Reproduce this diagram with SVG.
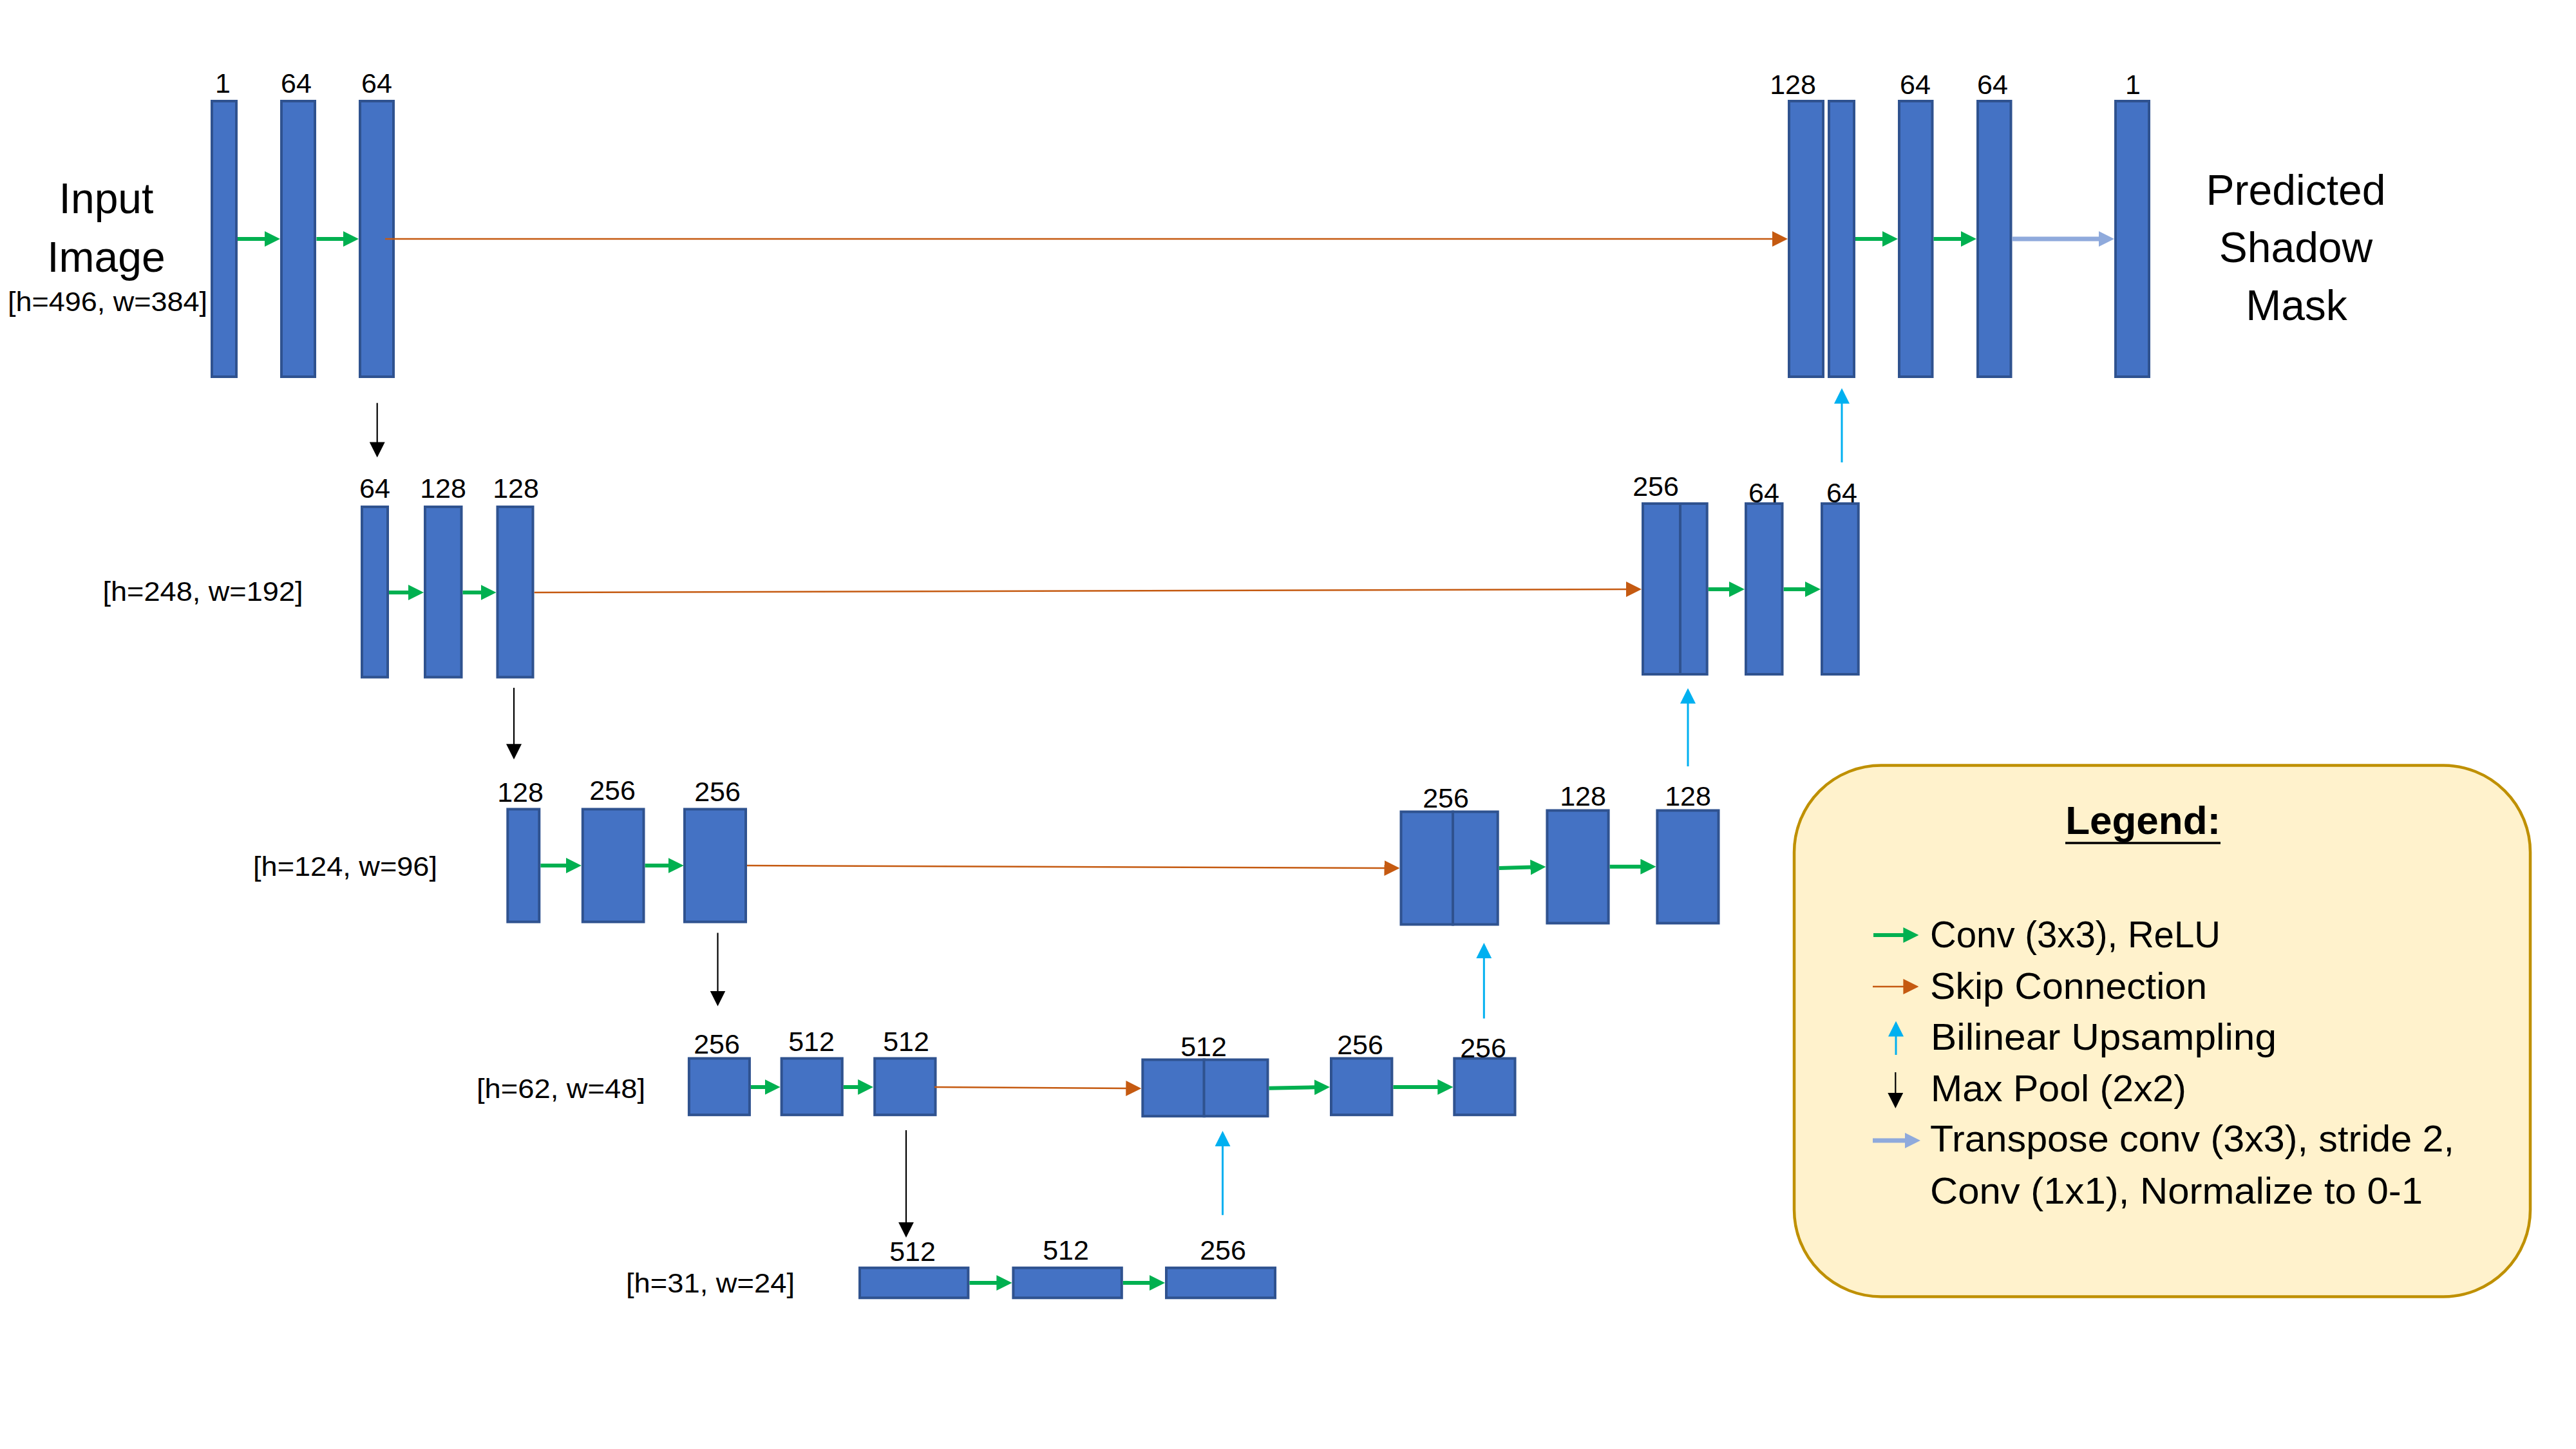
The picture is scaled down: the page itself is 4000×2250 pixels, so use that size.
<svg xmlns="http://www.w3.org/2000/svg" width="4000" height="2250" viewBox="0 0 4000 2250">
<style>
.b{fill:#4472C4;stroke:#2F528F;stroke-width:4}
.t{font-family:"Liberation Sans",Arial,sans-serif;fill:#000}
.n{font-size:43px;text-anchor:middle}
.d{font-size:43px;text-anchor:middle}
.h{font-size:66px;text-anchor:middle}
.lg{font-size:58px}
.g{stroke:#00B050;stroke-width:6;fill:none}
.o{stroke:#C55A11;stroke-width:2.5;fill:none}
.k{stroke:#000;stroke-width:2.2;fill:none}
.c{stroke:#00B0F0;stroke-width:3;fill:none}
.p{stroke:#8FAADC;stroke-width:7;fill:none}
</style>
<defs>
<marker id="mg" markerUnits="userSpaceOnUse" markerWidth="24" markerHeight="24" viewBox="0 0 24 24" refX="2" refY="12" orient="auto"><path d="M0,0 L24,12 L0,24 z" fill="#00B050"/></marker>
<marker id="mo" markerUnits="userSpaceOnUse" markerWidth="24" markerHeight="24" viewBox="0 0 24 24" refX="2" refY="12" orient="auto"><path d="M0,0 L24,12 L0,24 z" fill="#C55A11"/></marker>
<marker id="mk" markerUnits="userSpaceOnUse" markerWidth="24" markerHeight="24" viewBox="0 0 24 24" refX="2" refY="12" orient="auto"><path d="M0,0 L24,12 L0,24 z" fill="#000"/></marker>
<marker id="mc" markerUnits="userSpaceOnUse" markerWidth="24" markerHeight="24" viewBox="0 0 24 24" refX="2" refY="12" orient="auto"><path d="M0,0 L24,12 L0,24 z" fill="#00B0F0"/></marker>
<marker id="mp" markerUnits="userSpaceOnUse" markerWidth="24" markerHeight="24" viewBox="0 0 24 24" refX="2" refY="12" orient="auto"><path d="M0,0 L24,12 L0,24 z" fill="#8FAADC"/></marker>
</defs>
<rect width="4000" height="2250" fill="#fff"/>

<g id="titles">
<text class="t h" x="165" y="331">Input</text>
<text class="t h" x="165" y="422">Image</text>
<text class="t d" x="167" y="483" textLength="310" lengthAdjust="spacingAndGlyphs">[h=496, w=384]</text>
<text class="t d" x="315" y="933" textLength="311" lengthAdjust="spacingAndGlyphs">[h=248, w=192]</text>
<text class="t d" x="536" y="1360" textLength="286" lengthAdjust="spacingAndGlyphs">[h=124, w=96]</text>
<text class="t d" x="871" y="1705" textLength="262" lengthAdjust="spacingAndGlyphs">[h=62, w=48]</text>
<text class="t d" x="1103" y="2007" textLength="262" lengthAdjust="spacingAndGlyphs">[h=31, w=24]</text>
<text class="t h" x="3565" y="318">Predicted</text>
<text class="t h" x="3565" y="407">Shadow</text>
<text class="t h" x="3566" y="497">Mask</text>
</g>

<g id="nodes">
<g id="e1a"><rect class="b" x="329" y="157" width="38" height="428"/><text class="t n" x="346" y="144">1</text></g>
<g id="e1b"><rect class="b" x="437" y="157" width="52" height="428"/><text class="t n" x="460" y="144">64</text></g>
<g id="e1c"><rect class="b" x="559" y="157" width="52" height="428"/><text class="t n" x="585" y="144">64</text></g>
<g id="d1a"><rect class="b" x="2778" y="157" width="53" height="428"/><rect class="b" x="2840" y="157" width="39" height="428"/><text class="t n" x="2784" y="146">128</text></g>
<g id="d1b"><rect class="b" x="2949" y="157" width="51.5" height="428"/><text class="t n" x="2974" y="146">64</text></g>
<g id="d1c"><rect class="b" x="3071" y="157" width="51.5" height="428"/><text class="t n" x="3094" y="146">64</text></g>
<g id="out"><rect class="b" x="3285" y="157" width="52" height="428"/><text class="t n" x="3312" y="146">1</text></g>

<g id="e2a"><rect class="b" x="562" y="787" width="40" height="264.5"/><text class="t n" x="582" y="773">64</text></g>
<g id="e2b"><rect class="b" x="660" y="787" width="56.5" height="264.5"/><text class="t n" x="688" y="773">128</text></g>
<g id="e2c"><rect class="b" x="772.5" y="787" width="55" height="264.5"/><text class="t n" x="801" y="773">128</text></g>
<g id="d2a"><rect class="b" x="2551" y="782" width="58" height="265"/><rect class="b" x="2609" y="782" width="41.7" height="265"/><text class="t n" x="2571" y="770">256</text></g>
<g id="d2b"><rect class="b" x="2711" y="782" width="56.5" height="265"/><text class="t n" x="2739" y="780">64</text></g>
<g id="d2c"><rect class="b" x="2829" y="782" width="56.7" height="265"/><text class="t n" x="2860" y="780">64</text></g>

<g id="e3a"><rect class="b" x="788.3" y="1256.5" width="49" height="175"/><text class="t n" x="808" y="1245">128</text></g>
<g id="e3b"><rect class="b" x="904.8" y="1256.5" width="94.7" height="175"/><text class="t n" x="951" y="1242">256</text></g>
<g id="e3c"><rect class="b" x="1063" y="1256.5" width="95" height="175"/><text class="t n" x="1114" y="1244">256</text></g>
<g id="d3a"><rect class="b" x="2175.5" y="1260.5" width="80.5" height="175"/><rect class="b" x="2256" y="1260.5" width="69.7" height="175"/><text class="t n" x="2245" y="1254">256</text></g>
<g id="d3b"><rect class="b" x="2402.4" y="1258.5" width="95.2" height="175"/><text class="t n" x="2458" y="1251">128</text></g>
<g id="d3c"><rect class="b" x="2573.4" y="1258.5" width="95.1" height="175"/><text class="t n" x="2621" y="1251">128</text></g>

<g id="e4a"><rect class="b" x="1069.9" y="1643.5" width="94" height="87.7"/><text class="t n" x="1113" y="1636">256</text></g>
<g id="e4b"><rect class="b" x="1213.6" y="1643.5" width="94.2" height="87.7"/><text class="t n" x="1260" y="1632">512</text></g>
<g id="e4c"><rect class="b" x="1358.2" y="1643.5" width="94.3" height="87.7"/><text class="t n" x="1407" y="1632">512</text></g>
<g id="d4a"><rect class="b" x="1774.3" y="1645.5" width="95.7" height="87.7"/><rect class="b" x="1869.5" y="1645.5" width="99" height="87.7"/><text class="t n" x="1869" y="1640">512</text></g>
<g id="d4b"><rect class="b" x="2067" y="1643.5" width="94.4" height="87.7"/><text class="t n" x="2112" y="1637">256</text></g>
<g id="d4c"><rect class="b" x="2258.3" y="1643.5" width="94.2" height="87.7"/><text class="t n" x="2303" y="1642">256</text></g>

<g id="b5a"><rect class="b" x="1335" y="1968.7" width="168.4" height="46.6"/><text class="t n" x="1417" y="1958">512</text></g>
<g id="b5b"><rect class="b" x="1573.4" y="1968.7" width="168.4" height="46.6"/><text class="t n" x="1655" y="1956">512</text></g>
<g id="b5c"><rect class="b" x="1811" y="1968.7" width="169" height="46.6"/><text class="t n" x="1899" y="1956">256</text></g>
</g>

<g id="connectors">
<line class="o" x1="598" y1="371" x2="2754" y2="371" marker-end="url(#mo)"/>
<line class="o" x1="829.6" y1="920" x2="2527" y2="915" marker-end="url(#mo)"/>
<line class="o" x1="1160" y1="1344" x2="2151.5" y2="1348" marker-end="url(#mo)"/>
<line class="o" x1="1451" y1="1688" x2="1750.3" y2="1690" marker-end="url(#mo)"/>

<line class="g" x1="369" y1="371" x2="413" y2="371" marker-end="url(#mg)"/>
<line class="g" x1="491.5" y1="371" x2="535" y2="371" marker-end="url(#mg)"/>
<line class="g" x1="2881" y1="371" x2="2925" y2="371" marker-end="url(#mg)"/>
<line class="g" x1="3002.5" y1="371" x2="3047" y2="371" marker-end="url(#mg)"/>
<line class="g" x1="604" y1="920" x2="636" y2="920" marker-end="url(#mg)"/>
<line class="g" x1="718.5" y1="920" x2="748.5" y2="920" marker-end="url(#mg)"/>
<line class="g" x1="2652.7" y1="915" x2="2687" y2="915" marker-end="url(#mg)"/>
<line class="g" x1="2769.7" y1="915" x2="2805" y2="915" marker-end="url(#mg)"/>
<line class="g" x1="839.4" y1="1344" x2="880.8" y2="1344" marker-end="url(#mg)"/>
<line class="g" x1="1001.5" y1="1344" x2="1039.7" y2="1344" marker-end="url(#mg)"/>
<line class="g" x1="2327.7" y1="1348" x2="2378.4" y2="1346.6" marker-end="url(#mg)"/>
<line class="g" x1="2499.6" y1="1345.7" x2="2549.4" y2="1345.7" marker-end="url(#mg)"/>
<line class="g" x1="1166" y1="1688" x2="1189.6" y2="1688" marker-end="url(#mg)"/>
<line class="g" x1="1309.8" y1="1688" x2="1334.2" y2="1688" marker-end="url(#mg)"/>
<line class="g" x1="1970.5" y1="1689.7" x2="2043" y2="1688.3" marker-end="url(#mg)"/>
<line class="g" x1="2163.4" y1="1688" x2="2234.3" y2="1688" marker-end="url(#mg)"/>
<line class="g" x1="1505.4" y1="1992" x2="1549.4" y2="1992" marker-end="url(#mg)"/>
<line class="g" x1="1743.8" y1="1992" x2="1787" y2="1992" marker-end="url(#mg)"/>

<line class="p" x1="3124.5" y1="371" x2="3261" y2="371" marker-end="url(#mp)"/>

<line class="k" x1="585.7" y1="625.7" x2="585.7" y2="688.4" marker-end="url(#mk)"/>
<line class="k" x1="798" y1="1068" x2="798" y2="1157.3" marker-end="url(#mk)"/>
<line class="k" x1="1114.5" y1="1448.5" x2="1114.5" y2="1540.5" marker-end="url(#mk)"/>
<line class="k" x1="1407" y1="1755" x2="1407" y2="1899.7" marker-end="url(#mk)"/>

<line class="c" x1="1898.5" y1="1886.7" x2="1898.5" y2="1778" marker-end="url(#mc)"/>
<line class="c" x1="2304.3" y1="1581.5" x2="2304.3" y2="1486" marker-end="url(#mc)"/>
<line class="c" x1="2621" y1="1190" x2="2621" y2="1090.5" marker-end="url(#mc)"/>
<line class="c" x1="2860" y1="718" x2="2860" y2="624.7" marker-end="url(#mc)"/>
</g>

<g id="legend">
<rect x="2786" y="1188.5" width="1143" height="825" rx="135" ry="135" fill="#FFF2CC" stroke="#BF9000" stroke-width="4.5"/>
<text class="t" x="3327.7" y="1295" font-size="62" font-weight="bold" text-anchor="middle" textLength="241" lengthAdjust="spacingAndGlyphs">Legend:</text>
<line x1="3207" y1="1309" x2="3448" y2="1309" stroke="#000" stroke-width="3.5"/>
<line class="g" x1="2909" y1="1452" x2="2957.4" y2="1452" marker-end="url(#mg)"/>
<line class="o" x1="2908" y1="1532" x2="2957.4" y2="1532" marker-end="url(#mo)"/>
<line class="c" x1="2944" y1="1638" x2="2944" y2="1607.5" marker-end="url(#mc)"/>
<line class="k" x1="2943.3" y1="1665" x2="2943.3" y2="1699" marker-end="url(#mk)"/>
<line class="p" x1="2908" y1="1771" x2="2960" y2="1771" marker-end="url(#mp)"/>
<text class="t lg" x="2997" y="1471" textLength="451" lengthAdjust="spacingAndGlyphs">Conv (3x3), ReLU</text>
<text class="t lg" x="2997" y="1551" textLength="430" lengthAdjust="spacingAndGlyphs">Skip Connection</text>
<text class="t lg" x="2998" y="1630" textLength="537" lengthAdjust="spacingAndGlyphs">Bilinear Upsampling</text>
<text class="t lg" x="2998" y="1709.5" textLength="397" lengthAdjust="spacingAndGlyphs">Max Pool (2x2)</text>
<text class="t lg" x="2997" y="1788" textLength="814" lengthAdjust="spacingAndGlyphs">Transpose conv (3x3), stride 2,</text>
<text class="t lg" x="2997" y="1869" textLength="765" lengthAdjust="spacingAndGlyphs">Conv (1x1), Normalize to 0-1</text>
</g>
</svg>
